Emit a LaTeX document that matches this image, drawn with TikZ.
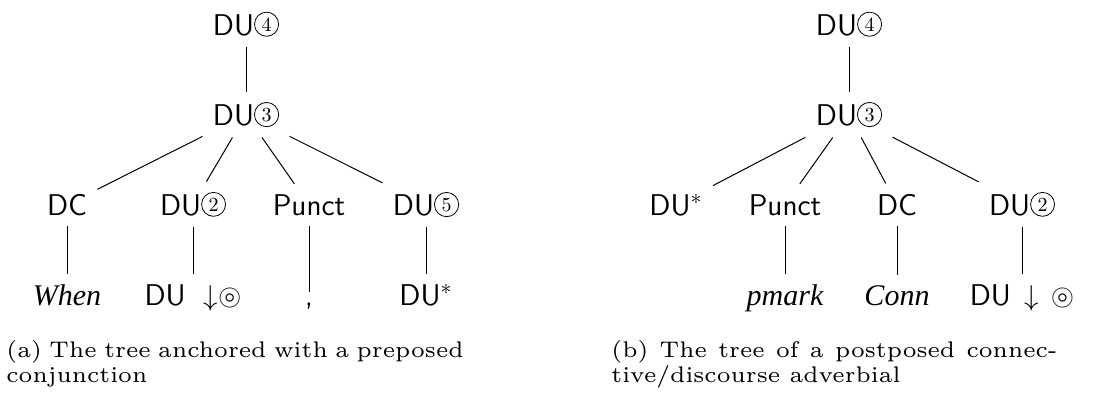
\documentclass[tikz,border=0pt]{standalone}
\usepackage{fontspec}
\usepackage{amssymb}
\newfontfamily\capfont{lmroman6-regular.otf}
\newfontfamily\leaffont{Liberation Serif}
% circled numbers
\newcommand{\cn}[1]{\tikz[baseline={([yshift=-2pt]cnum.base)}]
  \node[circle, draw, line width=0.4pt, inner sep=1.3pt, font=\rmfamily\fontsize{10}{10}\selectfont] (cnum) {#1};}
\tikzset{
  trnode/.style={anchor=base, inner sep=5pt, font=\fontsize{15}{18}\selectfont\sffamily},
  leafnode/.style={trnode, font=\fontsize{15}{18}\selectfont\leaffont\itshape},
  capnode/.style={anchor=north west, inner sep=0pt, font=\fontsize{11.3}{12.5}\selectfont\capfont},
  tredge/.style={line width=0.5pt},
}
\begin{document}
\begin{tikzpicture}[x=0.5pt, y=-0.5pt]
  \useasboundingbox (0,0) rectangle (1105,397);
  % (a) preposed conjunction
  \node[trnode] (ldu4) at (246,35) {DU\cn{4}};
  \node[trnode] (ldu3) at (246,125) {DU\cn{3}};
  \node[trnode] (ldc) at (67,215) {DC};
  \node[trnode] (ldu2) at (193,215) {DU\cn{2}};
  \node[trnode] (lpunct) at (309,215) {Punct};
  \node[trnode] (ldu5) at (426,215) {DU\cn{5}};
  \node[leafnode] (lwhen) at (67,305) {When};
  \node[trnode] (lanch) at (193,305) {DU\hspace{0.6em}$\mathord{\downarrow}{\circledcirc}$};
  \node[trnode] (lcomma) at (309,305) {,};
  \node[trnode] (lfoot) at (426,305) {DU$^*$};
  \foreach \p/\c in {ldu4/ldu3, ldu3/ldc, ldu3/ldu2, ldu3/lpunct, ldu3/ldu5,
    ldc/lwhen, ldu2/lanch, lpunct/lcomma, ldu5/lfoot}
    \draw[tredge] (\p)--(\c);
  \node[capnode, text width=240pt, align=left] (lcap) at (6,340)
    {(a) The tree anchored with a preposed\\conjunction};
  % (b) postposed connective
  \node[trnode] (rdu4) at (849,35) {DU\cn{4}};
  \node[trnode] (rdu3) at (849,125) {DU\cn{3}};
  \node[trnode] (rfoot) at (676,215) {DU$^*$};
  \node[trnode] (rpunct) at (785,215) {Punct};
  \node[trnode] (rdc) at (897,215) {DC};
  \node[trnode] (rdu2) at (1022,215) {DU\cn{2}};
  \node[leafnode] (rpmark) at (785,305) {pmark};
  \node[leafnode] (rconn) at (897,305) {Conn};
  \node[trnode] (ranch) at (1022,305) {DU\hspace{0.45em}$\downarrow$\hspace{0.4em}$\circledcirc$};
  \foreach \p/\c in {rdu4/rdu3, rdu3/rfoot, rdu3/rpunct, rdu3/rdc, rdu3/rdu2,
    rpunct/rpmark, rdc/rconn, rdu2/ranch}
    \draw[tredge] (\p)--(\c);
  \node[capnode, text width=223pt, align=justify] (rcap) at (611,340)
    {(b) The tree of a postposed connec-\linebreak tive/discourse adverbial};
\end{tikzpicture}
\end{document}
